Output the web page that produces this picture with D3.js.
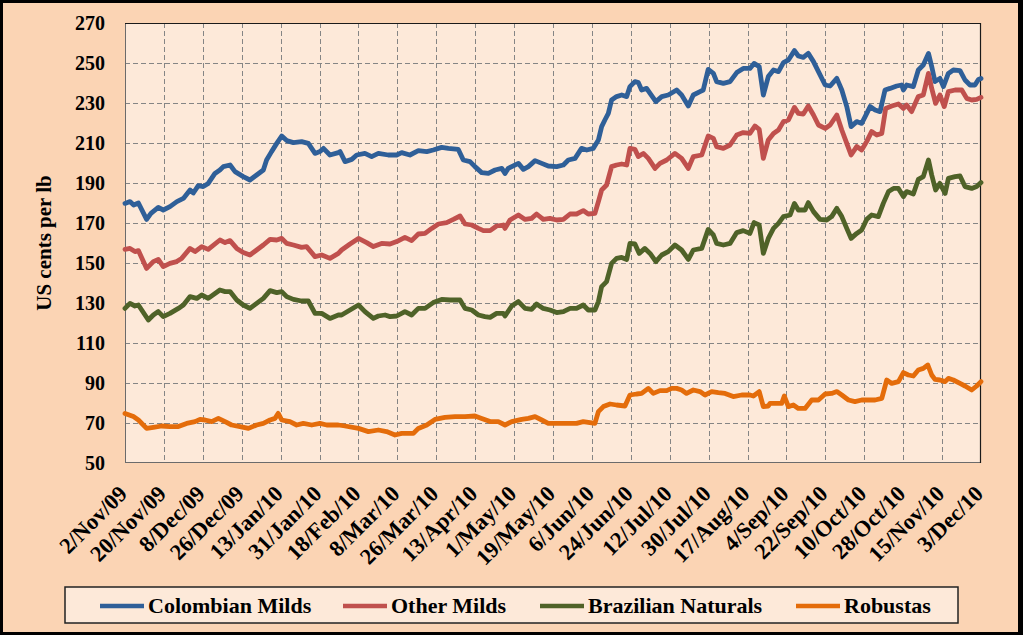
<!DOCTYPE html>
<html>
<head>
<meta charset="utf-8">
<script src="https://cdn.jsdelivr.net/npm/d3@7"></script>
<style>
  html, body { margin: 0; padding: 0; background: #000; }
  svg { display: block; }
  text { font-family: "Liberation Serif", "Times New Roman", serif; font-weight: bold; fill: #000; }
</style>
</head>
<body>
<svg id="chart" width="1023" height="635"></svg>
<script>
// ---------------- DATA ----------------
const startDate = "2/Nov/09";
const endDate = "3/Dec/10";
const tickLabels = ["2/Nov/09","20/Nov/09","8/Dec/09","26/Dec/09","13/Jan/10","31/Jan/10","18/Feb/10",
  "8/Mar/10","26/Mar/10","13/Apr/10","1/May/10","19/May/10","6/Jun/10","24/Jun/10","12/Jul/10",
  "30/Jul/10","17/Aug/10","4/Sep/10","22/Sep/10","10/Oct/10","28/Oct/10","15/Nov/10","3/Dec/10"];
const yTicks = [50,70,90,110,130,150,170,190,210,230,250,270];
const seriesNames = ["Colombian Milds","Other Milds","Brazilian Naturals","Robustas"];
const seriesColors = ["#2F5F98","#C0504D","#4F6228","#E46C0A"];

// [days since 2 Nov 2009, US cents per lb]
const colombianMilds = [[0,179.8],[2.3,180.7],[4,179],[6.2,180],[10,171.8],[12,174.8],[15.4,177.8],[17.7,176.5],[20.8,178.2],[24,180.7],[27,182.3],[30.1,186.5],[31.6,185],[33.9,188.7],[36.2,188.2],[38.5,189.8],[41.6,194.8],[43.9,196.5],[45.5,198.2],[48.6,199],[50.9,195.7],[54.7,193.2],[57.8,191.5],[60.9,194],[64,196.5],[65.5,201.5],[67.8,205.7],[70.2,209.8],[72.5,213.5],[74.8,211.2],[77.9,210.2],[81.7,210.7],[84.8,209.8],[87.9,204.8],[90.2,205.7],[91.8,207.3],[94.8,204],[98.7,205.2],
  [99.5,205.7],[101.8,200.7],[104.9,201.8],[107.2,204],[111,204.8],[114.1,203.2],[117.2,204.8],[121.8,204],[125.7,204],[128,205.2],[131.8,204],[135.7,206.2],[139.6,205.7],[142.6,206.5],[146.5,207.8],[149.6,207.3],[154.2,206.8],[156.5,201.5],[159.6,200.7],[161.9,198.2],[165,195.2],[168.1,194.8],[171.2,196.5],[174.3,197.3],[175.8,194.8],[177.3,197.3],[182,199.8],[184.3,196.8],[186.6,198.2],[189.7,201.2],[192.8,199.8],[195.8,198.5],
  [199.7,198.2],[202.8,199],[205.1,201.5],[208.2,202.3],[211.2,207.3],[213.6,206.5],[216.6,207.3],[219,211.5],[220.5,218.2],[222,221.5],[223.6,224.8],[225.1,231.5],[227.4,233.2],[229.8,234],[232.1,233.2],[233.6,238.2],[235.9,240.7],[237.5,240.2],[239,236.5],[241.3,237.3],[242.9,234.8],[245.6,230.7],[248.3,233.2],[251.3,234],[255.2,236.5],[257.5,234],[260.6,228.5],[262.9,234],[266,235.7],[267.5,236.5],[269.8,246.8],[272.2,244.8],[273.7,240.7],[276.8,239.8],[279.9,240.7],[283,245.2],[286,247.3],[289.1,247.3],[291,249.8],[293.4,248.2],[295.3,234],
  [297.6,243.2],[300,246.5],[302.3,245.7],[304.6,250.2],[306.9,251.5],[309.7,256.2],[311.5,253.5],[313.8,252.8],[316.1,254.8],[318.5,250.7],[320.8,245.7],[323.9,239],[326.2,238.5],[329.3,242.3],[331.6,236.5],[333.9,228.2],[335.9,218.2],[338.5,220.7],[340.8,219.8],[342.4,223.2],[344.7,228.2],[347,226.5],[349.3,225.7],[351.6,236.5],[353.9,237.3],[357,238.5],[359.3,239],[360.1,236.5],[361.6,239],[364.7,238.2],[367,246.5],[369.3,249],[371.7,254.8],[373.2,248.2],[374.7,240.7],[377,242.3],[378.6,238.2],[380.9,244.8],[383.2,246.5],[386.3,246.2],[388.6,241.5],[390.9,239],[393.2,239],[394.8,241.8],[396,242.3]];

const otherMilds = [[0,156.8],[2.3,157.3],[4.6,155.7],[6.2,156.2],[10,147.3],[13.1,150.7],[15.4,151.8],[17.7,148.2],[20.8,149.8],[23.9,150.7],[26.2,152.3],[30.1,157.3],[32.4,155.7],[35.5,158.2],[38.5,156.8],[43.9,161.5],[46.3,160.2],[48.6,161.2],[51.7,157.3],[54.7,155.2],[57.8,154],[60.9,156.5],[64,159],[67.1,161.8],[70.2,161.5],[72.5,162.3],[74.8,159.8],[77.9,159],[81.7,157.8],[84,158.2],[87.9,153.2],[91,154],[94.8,152.3],[98.7,154.8],
  [100.2,156.5],[104.1,159.5],[108,162.3],[111.8,160.2],[114.9,158.2],[118.7,159.8],[122.6,159.5],[125.7,160.7],[129.5,162.8],[132.6,161.2],[135.7,164.5],[138.8,164.8],[141.9,167.3],[145,169.5],[148.8,170.2],[151.9,171.8],[155,173.5],[157.3,169.5],[160.4,169],[163.5,167.3],[165.8,166.2],[168.9,166.2],[171.9,168.5],[175,169],[175.8,167.3],[178.1,171.5],[182,174],[185.1,171.8],[188.1,172.3],[190.4,174.5],[193.5,171.8],
  [196.6,172.3],[199.7,171.5],[202.8,171.8],[205.9,174.5],[208.9,174.5],[212,176.2],[214.3,174.5],[217.4,174.8],[219,180.7],[220.5,186.5],[222.8,189],[225.1,198.2],[227.4,199],[229.8,199.5],[232.1,199],[233.6,207.3],[235.9,206.8],[237.5,203.2],[239.8,204.8],[242.1,202.3],[245.2,197.3],[247.5,199.8],[250.6,201.5],[254.4,204.8],[257.5,202.3],[260.6,197.3],[262.9,203.2],[266.8,204],[269.8,213.5],[272.2,212.3],[273.7,208.2],[276.8,207.3],[279.9,209],[283,214],[286,215.2],[289.1,214.8],[291.4,218.5],[293.4,216.8],[295.3,202.3],
  [297.6,211.5],[300,214.8],[302.3,216.5],[304.6,220.7],[306.9,221.5],[309.7,227.8],[311.5,224.8],[313.8,224.5],[316.1,228.5],[318.5,224],[320.8,219],[323.9,217.3],[326.2,219],[329.3,224],[331.6,216.5],[333.9,209.8],[335.9,204],[338.5,208.2],[340.8,206.5],[343.1,210.7],[345.4,215.7],[347.8,214],[350.1,214.8],[351.9,227.3],[354.7,228.5],[357.8,229.5],[360.1,227.3],[361.6,229],[363.9,225.7],[367,233.2],[369.3,234],[371.7,244.8],[373.2,237.3],[375,229.8],[377,234],[379,228.2],[380.9,235.7],[384,236.5],[387.1,236.5],[389.4,232.3],[391.7,231.5],[394,231.8],[396,232.8]];

const brazilianNaturals = [[0,127.3],[2.3,129.8],[4.6,128.5],[6.2,129],[10.8,121.5],[13.1,124],[15.4,125.7],[17.7,123.2],[20.8,124.8],[24.7,127.3],[27,129],[30.1,133.2],[33.2,132.3],[35.5,134],[38.5,132.3],[43.9,136.5],[46.3,135.7],[48.6,135.7],[51.7,131.5],[54.7,129],[57.8,127.3],[60.9,129.8],[64,132.3],[67.1,136.2],[70.2,135.2],[72.5,135.7],[74.8,133.2],[77.9,131.8],[81.7,131],[84.8,131],[87.9,124.8],[91,124.8],[94.8,122.3],[98.7,124],
  [100.2,124],[104.1,126.5],[108,129],[111,125.7],[114.9,122.3],[117.2,123.5],[120.3,124],[122.6,123.2],[125.7,123.5],[129.5,125.7],[132.6,124],[135.7,127.3],[138.8,127.3],[142.6,130.2],[146.5,131.8],[150.3,131.5],[155,131.5],[157.3,127.3],[160.4,126.5],[163.5,124],[166.5,123.2],[168.9,122.8],[171.9,124.8],[175,124.8],[175.8,123.5],[178.9,128.5],[182,130.7],[185.1,127.3],[188.1,126.8],[190.4,129.5],[193.5,127.3],
  [196.6,126.5],[199.7,125.2],[202.8,125.7],[205.9,127.3],[208.9,127.3],[212,129],[214.3,126.5],[217.4,126.5],[219,130.7],[220.5,138.2],[222.8,140.7],[225.1,149.8],[227.4,152.3],[229.8,152.8],[232.1,151.8],[233.6,159.8],[235.9,159.5],[237.9,154.8],[240.5,157.3],[242.9,154.8],[245.6,150.7],[248.3,154],[251.3,155.7],[254.4,159],[257.5,156.5],[260.6,151.8],[262.9,156.5],[266.8,157.3],[269.8,166.8],[272.2,164],[273.7,159.8],[276.8,159],[279.9,159.8],[283,165.2],[286,166.2],[289.1,164.8],[291,170.2],[293.4,169],[295.3,154.8],
  [297.6,162.3],[300,167.3],[302.3,169.8],[304.6,173.2],[307.7,174],[309.7,179.8],[311.5,176.5],[314.6,176.5],[316.1,180.2],[318.5,175.7],[321.5,171.8],[324.6,171.5],[326.9,173.2],[329.3,177.3],[331.6,173.2],[333.9,167.3],[335.9,162.3],[338.5,164.8],[340.8,166.5],[343.1,171.8],[345.4,174],[348.5,173.2],[350.8,179.8],[353.2,185.7],[355.5,187.3],[357.8,187.3],[360.1,183.2],[361.6,185.7],[364.7,184.5],[367,191.8],[369.3,193.2],[371.7,201.5],[373.2,194],[375,186.5],[377,189.8],[379.4,184.8],[380.9,192.3],[384,193.2],[386.3,193.5],[388.6,188.2],[391.7,187.3],[394,188.2],[396,190.2]];

const robustas = [[0,74.8],[3.9,73.2],[6.2,71.5],[10,67.3],[13.1,67.8],[17,68.5],[20.8,68.2],[24.7,68.2],[28.5,69.8],[32.4,70.7],[34.7,71.8],[37,71.5],[40.1,70.7],[43.2,72.3],[46.3,70.7],[49.3,69],[53.2,68.2],[57.1,67.3],[60.9,69],[64,69.8],[67.1,71.5],[69.4,72.3],[70.9,74.8],[72.5,71.5],[76.3,70.7],[79.4,69],[82.5,69.8],[86.4,69],[90.2,69.8],[93.3,69],[98.7,69],
  [101.8,68.5],[108,67.3],[112.6,65.7],[117.2,66.5],[121,65.7],[124.9,64],[128,64.8],[133.4,64.8],[135.7,67.3],[139.6,69],[143.4,71.8],[148,72.8],[152.7,73.2],[157.3,73.2],[161.9,73.5],[165,72.3],[168.9,70.7],[172.7,70.7],[175.8,69],[178.9,70.7],[183.5,71.8],[186.6,72.3],[189.7,73.2],[192.8,71.5],[195.8,69.8],
  [202.8,69.8],[208.9,69.8],[212,70.7],[217.4,69.8],[219,75.7],[221.3,78.2],[224.4,79.5],[227.4,79],[231.3,78.5],[233.6,84],[236.7,84.5],[239,84.8],[242.1,87.3],[244.4,84.8],[247.5,86.2],[250.6,86.2],[252.9,87.3],[255.2,87.3],[257.5,86.5],[259.8,84.8],[262.9,86.5],[266,85.7],[268.3,84],[271.4,85.7],[274.5,85.2],[277.6,84.8],[281.4,83.2],[285.3,84],[289.1,84],[290.7,83.5],[293.4,85.7],[295.3,78.2],[297.6,78.5],
  [298.4,79.8],[301.5,79.8],[303.8,79.8],[305,83.5],[306.9,78.2],[309.2,79],[311.5,77.3],[314.6,77.3],[317.7,81.5],[320.8,81.5],[323.9,84.5],[326.9,84.8],[329.3,85.7],[331.6,84],[334.7,81.5],[337.7,80.7],[340.8,81.5],[343.9,81.5],[347,81.5],[350.1,82.3],[352.4,91.5],[354.7,89.8],[357.8,90.7],[360.1,95.2],[362.4,94],[364.7,93.5],[367,96.5],[369.3,97.3],[371.4,99],[373.2,94],[374.7,91.8],[377,91.5],[379.4,90.7],[380.9,92.3],[383.2,91.5],[386.3,89.8],[388.6,88.5],[391.7,86.5],[394,88.5],[396,90.7]];

const allSeries = [colombianMilds, otherMilds, brazilianNaturals, robustas];

// ---------------- CHART ----------------
const W = 1023, H = 635;
const plot = {left: 125, right: 981, top: 23, bottom: 463};
const parse = d3.timeParse("%d/%b/%y");
const t0 = parse(startDate), t1 = parse(endDate);

const svg = d3.select("#chart");
// frame
svg.append("rect").attr("x",0).attr("y",0).attr("width",W).attr("height",H).attr("fill","#000");
svg.append("rect").attr("x",3).attr("y",3).attr("width",1015).attr("height",629).attr("fill","#FBD4B4");

const x = d3.scaleTime().domain([t0, t1]).range([plot.left, plot.right]);
const y = d3.scaleLinear().domain([50, 270]).range([plot.bottom, plot.top]);
const dayToDate = d => new Date(t0.getTime() + d * 864e5);

// plot area
svg.append("rect").attr("x",plot.left).attr("y",plot.top)
  .attr("width",plot.right-plot.left).attr("height",plot.bottom-plot.top)
  .attr("fill","#FDE9D9");

const tickDates = tickLabels.map(parse);

// gridlines
const grid = svg.append("g").attr("stroke","#858585").attr("stroke-width",1).attr("stroke-dasharray","5,3");
grid.selectAll("line.h").data(yTicks.filter(v => v > 50 && v < 270)).join("line")
  .attr("x1",plot.left).attr("x2",plot.right)
  .attr("y1",d => Math.round(y(d))+0.5).attr("y2",d => Math.round(y(d))+0.5);
grid.selectAll("line.v").data(tickDates.slice(1, -1)).join("line")
  .attr("x1",d => Math.round(x(d))+0.5).attr("x2",d => Math.round(x(d))+0.5)
  .attr("y1",plot.top).attr("y2",plot.bottom);

// plot border
svg.append("rect").attr("x",plot.left+0.5).attr("y",plot.top+0.5)
  .attr("width",plot.right-plot.left-1).attr("height",plot.bottom-plot.top-1)
  .attr("fill","none").attr("stroke","#6b6b6b").attr("stroke-width",1);
svg.append("line").attr("x1",plot.left).attr("x2",plot.right).attr("y1",plot.top+0.5).attr("y2",plot.top+0.5)
  .attr("stroke","#1a1a1a").attr("stroke-width",1.2);
svg.append("line").attr("x1",plot.right-0.5).attr("x2",plot.right-0.5).attr("y1",plot.top).attr("y2",plot.bottom)
  .attr("stroke","#1a1a1a").attr("stroke-width",1.2);

// y axis labels
const yAxis = d3.axisLeft(y).tickValues(yTicks).tickSize(0).tickPadding(0).tickFormat(d3.format("d"));
const yg = svg.append("g").attr("transform",`translate(105,0)`).call(yAxis);
yg.select(".domain").remove();
yg.selectAll("text").attr("font-size","20px").attr("font-family","Liberation Serif, serif")
  .attr("font-weight","bold").attr("fill","#000").attr("dy","0.34em");

// y title
svg.append("text").attr("transform","translate(51,243) rotate(-90)")
  .attr("text-anchor","middle").attr("font-size","21px").text("US cents per lb");

// x axis labels
const xAxis = d3.axisBottom(x).tickValues(tickDates).tickSize(0).tickFormat((d,i) => tickLabels[i]);
const xg = svg.append("g").attr("transform",`translate(0,${plot.bottom})`).call(xAxis);
xg.select(".domain").remove();
xg.selectAll("text").attr("font-size","22.5px").attr("font-family","Liberation Serif, serif")
  .attr("font-weight","bold").attr("fill","#000")
  .attr("text-anchor","end").attr("y",0).attr("dy",0)
  .attr("transform","translate(3,32) rotate(-45)");

// series lines
const line = d3.line().x(d => x(dayToDate(d[0]))).y(d => y(d[1])).curve(d3.curveLinear);
const lines = svg.append("g");
allSeries.forEach((s, i) => {
  lines.append("path").datum(s).attr("d", line)
    .attr("fill","none").attr("stroke",seriesColors[i]).attr("stroke-width",4.8)
    .attr("stroke-linejoin","round").attr("stroke-linecap","round");
});

// legend
const lg = svg.append("g");
lg.append("rect").attr("x",65).attr("y",587).attr("width",893).attr("height",36)
  .attr("fill","#FDE9D9").attr("stroke","#222").attr("stroke-width",1.5);
const legendX = [100, 343, 540, 796];
seriesNames.forEach((n, i) => {
  lg.append("line").attr("x1",legendX[i]).attr("x2",legendX[i]+44).attr("y1",606).attr("y2",606)
    .attr("stroke",seriesColors[i]).attr("stroke-width",4.5);
  lg.append("text").attr("x",legendX[i]+48).attr("y",613).attr("font-size","22px").text(n);
});
</script>
</body>
</html>
